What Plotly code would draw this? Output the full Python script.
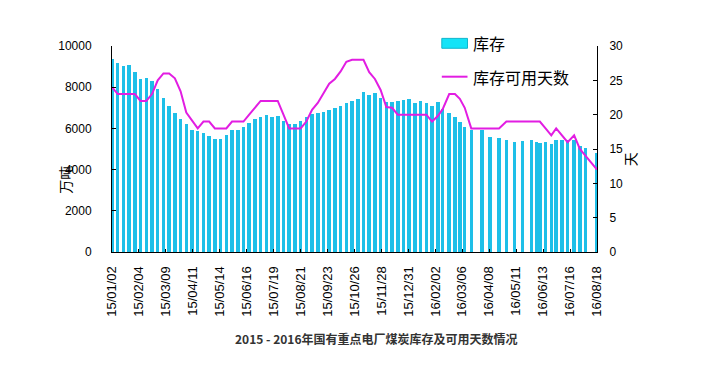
import plotly.graph_objects as go

dates = [
    "2015-01-02", "2015-01-09", "2015-01-16", "2015-01-23", "2015-01-30",
    "2015-02-06", "2015-02-13", "2015-02-20", "2015-02-27",
    "2015-03-06", "2015-03-13", "2015-03-20", "2015-03-27",
    "2015-04-03", "2015-04-10", "2015-04-17", "2015-04-24",
    "2015-05-01", "2015-05-08", "2015-05-15", "2015-05-22", "2015-05-29",
    "2015-06-05", "2015-06-12", "2015-06-19", "2015-06-26",
    "2015-07-03", "2015-07-10", "2015-07-17", "2015-07-24", "2015-07-31",
    "2015-08-07", "2015-08-14", "2015-08-21", "2015-08-28",
    "2015-09-04", "2015-09-11", "2015-09-18", "2015-09-25",
    "2015-10-02", "2015-10-09", "2015-10-16", "2015-10-23", "2015-10-30",
    "2015-11-06", "2015-11-13", "2015-11-20", "2015-11-27",
    "2015-12-04", "2015-12-11", "2015-12-18", "2015-12-25", "2016-01-01",
    "2016-01-08", "2016-01-15", "2016-01-22", "2016-01-29",
    "2016-02-05", "2016-02-11", "2016-02-19", "2016-02-26",
    "2016-03-03", "2016-03-09", "2016-03-17", "2016-03-30",
    "2016-04-09", "2016-04-20", "2016-04-29",
    "2016-05-09", "2016-05-19", "2016-05-30",
    "2016-06-05", "2016-06-09", "2016-06-16", "2016-06-23", "2016-06-29",
    "2016-07-06", "2016-07-13", "2016-07-21", "2016-07-28",
    "2016-08-04", "2016-08-18",
]

stock = [
    9350, 9160, 9050, 9070, 8720, 8380, 8430, 8280, 7900, 7460,
    7110, 6730, 6440, 6190, 5920, 5850, 5790, 5640, 5500, 5500,
    5690, 5920, 5900, 6080, 6280, 6470, 6560, 6670, 6560, 6600,
    6350, 6200, 6220, 6350, 6530, 6690, 6730, 6810, 6890, 6970,
    7080, 7210, 7330, 7410, 7780, 7620, 7700, 7460, 7290, 7290,
    7340, 7370, 7410, 7210, 7340, 7240, 7080, 7290, 6950, 6760,
    6530, 6320, 6050, 5920, 5900, 5560, 5510, 5460, 5350, 5400,
    5460, 5350, 5300, 5350, 5240, 5460, 5420, 5460, 5460, 5170,
    5030, 4800,
]

days = [
    24, 23, 23, 23, 23, 22, 22, 23, 25, 26,
    26, 25.3, 23.4, 20.3, 19.2, 18, 19, 19, 18, 18,
    18, 19, 19, 19, 20, 21, 22, 22, 22, 22,
    20, 18, 18, 18, 19, 20.7, 21.7, 23.2, 24.5, 25.2,
    26.3, 27.7, 28, 28, 28, 26.2, 25.2, 23.6, 21.1, 21,
    20, 20, 20, 20, 20, 20, 19, 19.8, 20.8, 23,
    23, 22.3, 21, 18, 18, 18, 18, 19, 19, 19,
    19, 19, 19, 18, 17, 18, 17, 16, 17, 15,
    14, 12,
]

x_start = "2015-01-02"
x_end = "2016-08-18"
tick_step_days = 33

name_bar = "库存"
name_line = "库存可用天数"
title_text = "2015 - 2016年国有重点电厂煤炭库存及可用天数情况"

DAY_MS = 86400000
BAR_C = "#1EBFE8"
LINE_C = "#E21DE2"
num_font = dict(family="Liberation Sans, Arial, sans-serif", size=12, color="#000")
cjk = "Noto Sans CJK SC, sans-serif"

fig = go.Figure()
fig.add_trace(go.Bar(x=dates, y=stock, name=name_bar, marker=dict(color=BAR_C, line=dict(width=0)),
                     width=4.3 * DAY_MS, yaxis="y", showlegend=False))
fig.add_trace(go.Scatter(x=dates, y=days, name=name_line, mode="lines",
                         line=dict(color=LINE_C, width=2), yaxis="y2", showlegend=False))

fig.update_layout(
    width=712, height=376,
    margin=dict(l=104, r=123, t=38, b=132),
    paper_bgcolor="white", plot_bgcolor="white",
    xaxis=dict(type="date", range=[x_start, x_end], tick0=x_start, dtick=tick_step_days * DAY_MS,
               tickformat="%y/%m/%d", tickangle=-90, ticks="inside", ticklen=3, tickcolor="#000",
               showline=True, linecolor="#000", linewidth=1, showgrid=False, zeroline=False,
               tickfont=dict(family="Liberation Sans, Arial, sans-serif", size=13, color="#000"),
               ticklabelstandoff=8),
    yaxis=dict(range=[0, 10000], dtick=2000, tickformat="d", ticks="inside", ticklen=4,
               tickcolor="#000", showline=True, linecolor="#000", linewidth=1, showgrid=False,
               zeroline=False, tickfont=num_font, ticklabelstandoff=17),
    yaxis2=dict(range=[0, 30], dtick=5, overlaying="y", side="right", ticks="inside", ticklen=4,
                tickcolor="#000", showline=True, linecolor="#000", linewidth=1, showgrid=False,
                zeroline=False, tickfont=num_font, ticklabelstandoff=9),
    bargap=0,
)

# y-axis titles
fig.add_annotation(text="万吨", xref="paper", yref="paper", x=-0.097, y=0.35, textangle=-90,
                   xanchor="center", yanchor="middle",
                   showarrow=False, font=dict(family=cjk, size=14, color="#000"))
fig.add_annotation(text="天", xref="paper", yref="paper", x=1.068, y=0.45, textangle=-90,
                   xanchor="center", yanchor="middle",
                   showarrow=False, font=dict(family=cjk, size=14, color="#000"))

# legend drawn manually
fig.add_shape(type="rect", xref="paper", yref="paper", x0=0.68, x1=0.733, y0=0.989, y1=1.037,
              fillcolor="#14E3F7", line=dict(color="#10B5CC", width=1))
fig.add_annotation(text=name_bar, xref="paper", yref="paper", x=0.74, y=1.013, xanchor="left",
                   yanchor="middle", showarrow=False, font=dict(family=cjk, size=16, color="#000"))
fig.add_shape(type="line", xref="paper", yref="paper", x0=0.68, x1=0.733, y0=0.851, y1=0.851,
              line=dict(color=LINE_C, width=2))
fig.add_annotation(text=name_line, xref="paper", yref="paper", x=0.74, y=0.851, xanchor="left",
                   yanchor="middle", showarrow=False, font=dict(family=cjk, size=16, color="#000"))

# title
fig.add_annotation(text="<b>" + title_text + "</b>", xref="paper", yref="paper", x=0.546, y=-0.42,
                   xanchor="center", yanchor="middle",
                   showarrow=False, font=dict(family=cjk, size=12, color="#333"))

fig.write_html("out.html")
